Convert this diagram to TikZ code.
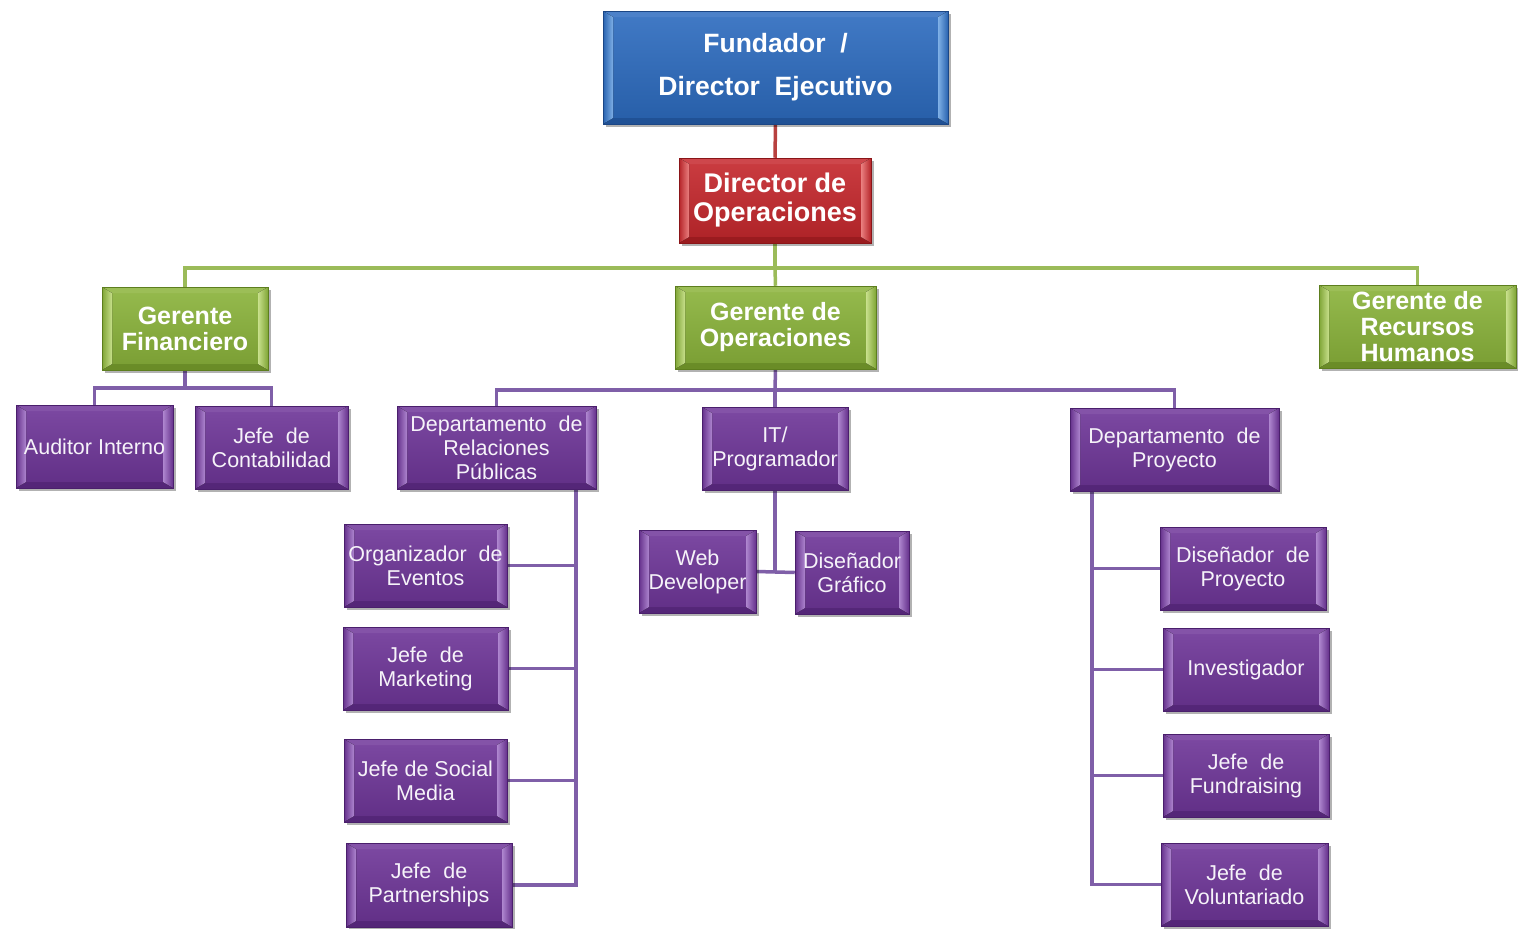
\documentclass[tikz,border=0pt]{standalone}
\usepackage{fontspec}
\setmainfont{Liberation Sans}
\usetikzlibrary{calc,shadows,backgrounds}

% box palettes: face, highlight, edge
\definecolor{pbase}{HTML}{6E3598}
\definecolor{plight}{HTML}{AE86CF}
\definecolor{pdark}{HTML}{4A1F6C}
\definecolor{bbase}{HTML}{2C6BBF}
\definecolor{blight}{HTML}{7FB0E6}
\definecolor{bdark}{HTML}{1B4685}
\definecolor{rbase}{HTML}{C5272C}
\definecolor{rlight}{HTML}{EA8080}
\definecolor{rdark}{HTML}{8A1518}
\definecolor{gbase}{HTML}{8AB33A}
\definecolor{glight}{HTML}{C8E08C}
\definecolor{gdark}{HTML}{5D7E1E}
% connector colours
\definecolor{redline}{HTML}{B8413F}
\definecolor{greenline}{HTML}{9BBB59}
\definecolor{purpleline}{HTML}{7F5FA8}

\tikzset{
  bevelbox/.style n args={3}{
    rectangle, inner sep=0pt, align=center, text=white,
    draw=#3, line width=0.5pt,
    top color=#1!90!white, bottom color=#1!88!black,
    drop shadow={shadow xshift=2.5pt, shadow yshift=-3pt, fill=black, opacity=0.3},
    path picture={
      \coordinate (q1) at (path picture bounding box.south west);
      \coordinate (q2) at (path picture bounding box.north east);
      \coordinate (q3) at (path picture bounding box.north west);
      \coordinate (q4) at (path picture bounding box.south east);
      % top and bottom bevels
      \fill[#1!85!white] (q3) -- (q2) -- ($(q2)+(-10pt,-6pt)$) -- ($(q3)+(10pt,-6pt)$) -- cycle;
      \fill[#3, opacity=0.55] (q1) -- (q4) -- ($(q4)+(-10pt,6pt)$) -- ($(q1)+(10pt,6pt)$) -- cycle;
      % side bevels with a highlight on the inner edge
      \fill[left color=#1!92!black, right color=#2] (q1) -- (q3) -- ($(q3)+(10pt,-6pt)$) -- ($(q1)+(10pt,6pt)$) -- cycle;
      \fill[left color=#2, right color=#1!92!black] (q4) -- (q2) -- ($(q2)+(-10pt,-6pt)$) -- ($(q4)+(-10pt,6pt)$) -- cycle;
    }
  },
  bluebox/.style={bevelbox={bbase}{blight}{bdark}, font=\bfseries\fontsize{26.5}{43}\selectfont},
  redbox/.style={bevelbox={rbase}{rlight}{rdark}, font=\bfseries\fontsize{27}{29}\selectfont},
  greenbox/.style={bevelbox={gbase}{glight}{gdark}, font=\bfseries\fontsize{25}{26}\selectfont},
  purplebox/.style={bevelbox={pbase}{plight}{pdark}, font=\fontsize{21.5}{24}\selectfont, text=white!94!pbase},
  link/.style={line width=3.5pt},
  redlink/.style={link, draw=redline},
  greenlink/.style={link, draw=greenline},
  purplelink/.style={link, draw=purpleline}
}

\begin{document}
\begin{tikzpicture}[x=1pt, y=-1pt]
  \useasboundingbox (0,0) rectangle (1518,929);

  % executive level
  \node[bluebox, minimum width=345, minimum height=113] (fund) at (775.5,67.5) {Fundador~ /\\Director~ Ejecutivo};
  \node[redbox, minimum width=192, minimum height=85] (dirop) at (775,200.5) {Director de\\Operaciones};

  % managers
  \node[greenbox, minimum width=166, minimum height=83] (gfin) at (185,328.5) {Gerente\\Financiero};
  \node[greenbox, minimum width=201, minimum height=83] (gop) at (775.5,327.5) {Gerente de\\Operaciones};
  \node[greenbox, minimum width=197, minimum height=83] (grh) at (1417.5,326.5) {Gerente de\\Recursos\\Humanos};

  % finance
  \node[purplebox, minimum width=157, minimum height=83] (aud) at (94.5,446.5) {Auditor Interno};
  \node[purplebox, minimum width=153, minimum height=83] (cont) at (271.5,447.5) {Jefe~ de\\Contabilidad};

  % operations departments
  \node[purplebox, minimum width=199, minimum height=83] (drp) at (496.5,447.5) {Departamento~ de\\Relaciones\\Públicas};
  \node[purplebox, minimum width=146, minimum height=83] (it) at (775,448.5) {IT/\\Programador};
  \node[purplebox, minimum width=209, minimum height=83] (dpy) at (1174.5,449.5) {Departamento~ de\\Proyecto};

  % public relations team
  \node[purplebox, minimum width=163, minimum height=83] (org) at (425.5,565.5) {Organizador~ de\\Eventos};
  \node[purplebox, minimum width=165, minimum height=83] (mkt) at (425.5,668.5) {Jefe~ de\\Marketing};
  \node[purplebox, minimum width=163, minimum height=83] (soc) at (425.5,780.5) {Jefe de Social\\Media};
  \node[purplebox, minimum width=166, minimum height=84] (part) at (429,885) {Jefe~ de\\Partnerships};

  % IT team
  \node[purplebox, minimum width=117, minimum height=83] (web) at (697.5,571.5) {Web\\Developer};
  \node[purplebox, minimum width=114, minimum height=83] (graf) at (852,572.5) {Diseñador\\Gráfico};

  % project team
  \node[purplebox, minimum width=166, minimum height=83] (dipy) at (1243,568.5) {Diseñador~ de\\Proyecto};
  \node[purplebox, minimum width=166, minimum height=83] (inv) at (1246,669.5) {Investigador};
  \node[purplebox, minimum width=166, minimum height=83] (fr) at (1246,775.5) {Jefe~ de\\Fundraising};
  \node[purplebox, minimum width=167, minimum height=83] (vol) at (1244.5,884.5) {Jefe~ de\\Voluntariado};

  % junction points of the connectors
  \coordinate (gbus) at (775,268);
  \coordinate (fbus) at (185,388);
  \coordinate (obus) at (775,390);
  \coordinate (rv) at (576,489);
  \coordinate (pv) at (1092,491);

  \begin{scope}[on background layer]
    \fill[white] (0,0) rectangle (1518,929);

    \draw[redlink] (fund.south) -- (dirop.north);

    \draw[greenlink] (dirop.south) -- (gbus);
    \draw[greenlink] (gfin.north) |- (gbus) -| (grh.north);
    \draw[greenlink] (gop.north) -- (gbus);

    \draw[purplelink] (gfin.south) -- (fbus);
    \draw[purplelink] (aud.north) |- (fbus) -| (cont.north);

    \draw[purplelink] (gop.south) -- (obus);
    \draw[purplelink] (drp.north) |- (obus) -| (dpy.north);
    \draw[purplelink] (it.north) -- (obus);

    \draw[purplelink] (rv) -- (rv |- part.east) -- (part.east);
    \draw[purplelink] (rv |- org.east) -- (org.east);
    \draw[purplelink] (rv |- mkt.east) -- (mkt.east);
    \draw[purplelink] (rv |- soc.east) -- (soc.east);

    \draw[purplelink] (it.south) -- (it.south |- web.east);
    \draw[purplelink] (web.east) -- (graf.west);

    \draw[purplelink] (pv) -- (pv |- vol.west) -- (vol.west);
    \draw[purplelink] (pv |- dipy.west) -- (dipy.west);
    \draw[purplelink] (pv |- inv.west) -- (inv.west);
    \draw[purplelink] (pv |- fr.west) -- (fr.west);
  \end{scope}
\end{tikzpicture}
\end{document}
